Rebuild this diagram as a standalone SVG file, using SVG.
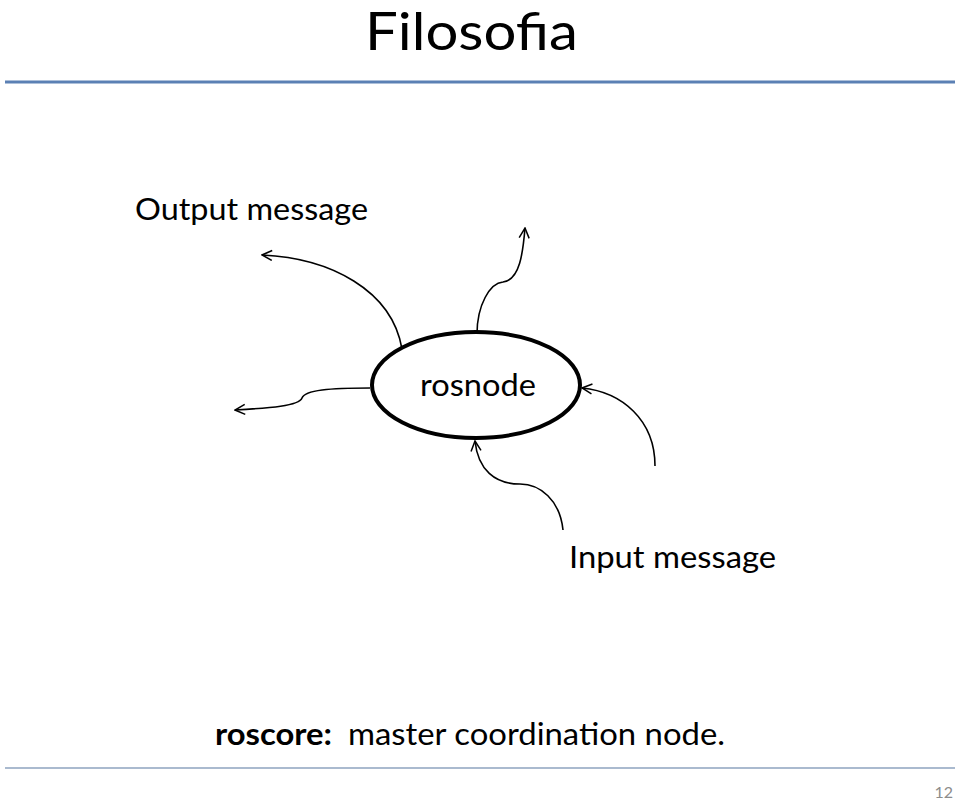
<svg xmlns="http://www.w3.org/2000/svg" width="960" height="800" viewBox="0 0 960 800">
<defs>
<marker id="arr" viewBox="0 0 12 12" refX="11" refY="6" markerWidth="12" markerHeight="12" markerUnits="userSpaceOnUse" orient="auto">
<path d="M1,1 L11,6 L1,11" fill="none" stroke="#000" stroke-width="1.5"/>
</marker>
<style>
text{font-family:Lato,"Open Sans","Liberation Sans",sans-serif;fill:#000}
.c{fill:none;stroke:#000;stroke-width:1.6;marker-end:url(#arr)}
</style>
</defs>
<rect width="960" height="800" fill="#fff"/>
<text x="365" y="50" font-size="52" textLength="213" lengthAdjust="spacingAndGlyphs">Filosofia</text>
<line x1="5" y1="82" x2="955" y2="82" stroke="#5b80b4" stroke-width="3"/>
<line x1="5" y1="768" x2="955" y2="768" stroke="#8ea3bf" stroke-width="1.5"/>
<text x="135" y="220" font-size="30" textLength="233" lengthAdjust="spacingAndGlyphs">Output message</text>
<text x="569" y="568" font-size="30" textLength="207" lengthAdjust="spacingAndGlyphs">Input message</text>
<text x="215" y="745" font-size="31" font-weight="bold" textLength="117" lengthAdjust="spacingAndGlyphs">roscore:</text>
<text x="348" y="745" font-size="31" textLength="377" lengthAdjust="spacingAndGlyphs">master coordination node.</text>
<text x="953" y="798" font-size="16" text-anchor="end" style="fill:#8c8c8c">12</text>
<g id="rosnode">
<ellipse cx="476" cy="385" rx="104" ry="53" fill="#fff" stroke="#000" stroke-width="4"/>
<text x="420" y="396" font-size="31" textLength="116" lengthAdjust="spacingAndGlyphs">rosnode</text>
</g>
<g id="connectors">
<path class="c" d="M402,349 C392,290 330,258 262,255"/>
<path class="c" d="M477,334 C477,305 490,283 503,282 C520,280 523,252 525,228"/>
<path class="c" d="M370,388 C330,388 305,390 302,398 C299,406 270,408 235,410"/>
<path class="c" d="M655,466 C655,420 622,392 582,388"/>
<path class="c" d="M563,530 C560,500 540,484 520,484 C495,484 478,470 475,441"/>
</g>
</svg>
